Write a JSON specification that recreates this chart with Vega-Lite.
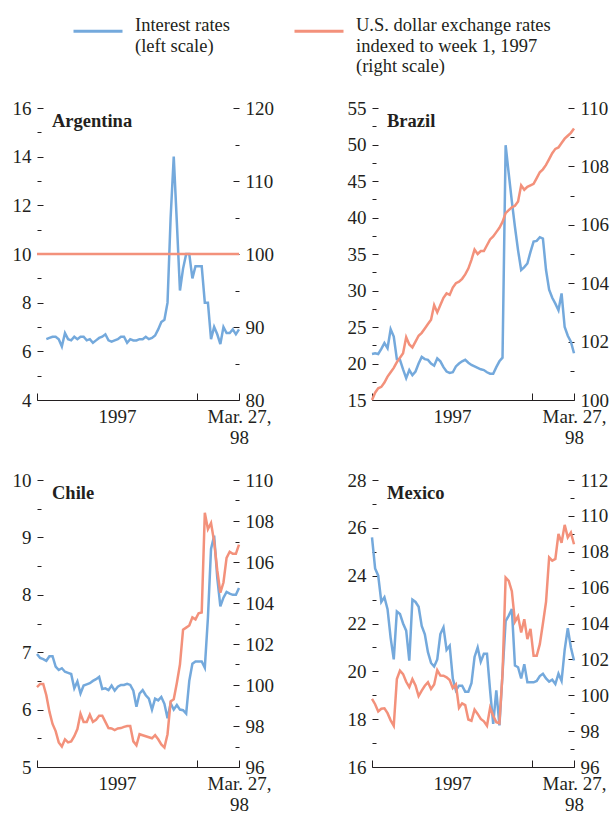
{
"$schema": "https://vega.github.io/schema/vega-lite/v6.json",
"background": "white",
"autosize": {"type": "pad"},
"padding": {"left": 12, "top": 5, "right": 5, "bottom": 5},
"datasets": {
"arg": [
{"week":0,"rate":null,"fx":100},{"week":1,"rate":null,"fx":100},{"week":2,"rate":null,"fx":100},{"week":3,"rate":6.5,"fx":100},{"week":4,"rate":6.55,"fx":100},{"week":5,"rate":6.6,"fx":100},{"week":6,"rate":6.6,"fx":100},{"week":7,"rate":6.5,"fx":100},{"week":8,"rate":6.2,"fx":100},{"week":9,"rate":6.75,"fx":100},
{"week":10,"rate":6.5,"fx":100},{"week":11,"rate":6.45,"fx":100},{"week":12,"rate":6.6,"fx":100},{"week":13,"rate":6.5,"fx":100},{"week":14,"rate":6.6,"fx":100},{"week":15,"rate":6.6,"fx":100},{"week":16,"rate":6.45,"fx":100},{"week":17,"rate":6.5,"fx":100},{"week":18,"rate":6.35,"fx":100},{"week":19,"rate":6.45,"fx":100},
{"week":20,"rate":6.55,"fx":100},{"week":21,"rate":6.6,"fx":100},{"week":22,"rate":6.7,"fx":100},{"week":23,"rate":6.45,"fx":100},{"week":24,"rate":6.4,"fx":100},{"week":25,"rate":6.45,"fx":100},{"week":26,"rate":6.5,"fx":100},{"week":27,"rate":6.6,"fx":100},{"week":28,"rate":6.6,"fx":100},{"week":29,"rate":6.35,"fx":100},
{"week":30,"rate":6.5,"fx":100},{"week":31,"rate":6.45,"fx":100},{"week":32,"rate":6.45,"fx":100},{"week":33,"rate":6.5,"fx":100},{"week":34,"rate":6.5,"fx":100},{"week":35,"rate":6.6,"fx":100},{"week":36,"rate":6.5,"fx":100},{"week":37,"rate":6.55,"fx":100},{"week":38,"rate":6.65,"fx":100},{"week":39,"rate":6.9,"fx":100},
{"week":40,"rate":7.2,"fx":100},{"week":41,"rate":7.3,"fx":100},{"week":42,"rate":8.0,"fx":100},{"week":43,"rate":11.5,"fx":100},{"week":44,"rate":14.0,"fx":100},{"week":45,"rate":11.3,"fx":100},{"week":46,"rate":8.5,"fx":100},{"week":47,"rate":9.4,"fx":100},{"week":48,"rate":10.0,"fx":100},{"week":49,"rate":10.0,"fx":100},
{"week":50,"rate":9.0,"fx":100},{"week":51,"rate":9.5,"fx":100},{"week":52,"rate":9.5,"fx":100},{"week":53,"rate":9.5,"fx":100},{"week":54,"rate":8.0,"fx":100},{"week":55,"rate":8.0,"fx":100},{"week":56,"rate":6.5,"fx":100},{"week":57,"rate":7.0,"fx":100},{"week":58,"rate":6.7,"fx":100},{"week":59,"rate":6.3,"fx":100},
{"week":60,"rate":7.0,"fx":100},{"week":61,"rate":6.75,"fx":100},{"week":62,"rate":6.75,"fx":100},{"week":63,"rate":6.9,"fx":100},{"week":64,"rate":6.7,"fx":100},{"week":65,"rate":6.9,"fx":100}
],
"bra": [
{"week":0,"rate":21.3,"fx":100.0},{"week":1,"rate":21.4,"fx":100.25},{"week":2,"rate":21.3,"fx":100.4},{"week":3,"rate":22.0,"fx":100.45},{"week":4,"rate":22.8,"fx":100.6},{"week":5,"rate":22.1,"fx":100.8},{"week":6,"rate":24.7,"fx":100.95},{"week":7,"rate":23.7,"fx":101.1},{"week":8,"rate":20.6,"fx":101.3},{"week":9,"rate":20.5,"fx":101.45},
{"week":10,"rate":19.2,"fx":101.6},{"week":11,"rate":18.0,"fx":102.15},{"week":12,"rate":19.1,"fx":101.9},{"week":13,"rate":18.4,"fx":101.8},{"week":14,"rate":18.9,"fx":102.0},{"week":15,"rate":20.0,"fx":102.2},{"week":16,"rate":20.9,"fx":102.3},{"week":17,"rate":20.6,"fx":102.45},{"week":18,"rate":20.5,"fx":102.6},{"week":19,"rate":20.0,"fx":102.75},
{"week":20,"rate":19.7,"fx":103.25},{"week":21,"rate":20.7,"fx":103.0},{"week":22,"rate":20.3,"fx":103.25},{"week":23,"rate":19.5,"fx":103.5},{"week":24,"rate":18.9,"fx":103.65},{"week":25,"rate":18.7,"fx":103.6},{"week":26,"rate":18.8,"fx":103.85},{"week":27,"rate":19.6,"fx":104.0},{"week":28,"rate":20.0,"fx":104.05},{"week":29,"rate":20.3,"fx":104.15},
{"week":30,"rate":20.5,"fx":104.3},{"week":31,"rate":20.1,"fx":104.5},{"week":32,"rate":19.8,"fx":104.8},{"week":33,"rate":19.6,"fx":105.15},{"week":34,"rate":19.4,"fx":105.0},{"week":35,"rate":19.2,"fx":105.1},{"week":36,"rate":19.1,"fx":105.1},{"week":37,"rate":18.8,"fx":105.3},{"week":38,"rate":18.6,"fx":105.5},{"week":39,"rate":18.6,"fx":105.6},
{"week":40,"rate":19.5,"fx":105.75},{"week":41,"rate":20.3,"fx":105.9},{"week":42,"rate":20.8,"fx":106.1},{"week":43,"rate":49.9,"fx":106.4},{"week":44,"rate":46.0,"fx":106.5},{"week":45,"rate":42.2,"fx":106.6},{"week":46,"rate":38.7,"fx":106.65},{"week":47,"rate":35.5,"fx":106.8},{"week":48,"rate":32.8,"fx":107.35},{"week":49,"rate":33.2,"fx":107.2},
{"week":50,"rate":33.7,"fx":107.3},{"week":51,"rate":35.3,"fx":107.35},{"week":52,"rate":36.7,"fx":107.4},{"week":53,"rate":36.8,"fx":107.6},{"week":54,"rate":37.3,"fx":107.8},{"week":55,"rate":37.1,"fx":107.9},{"week":56,"rate":32.8,"fx":108.05},{"week":57,"rate":30.1,"fx":108.25},{"week":58,"rate":29.0,"fx":108.45},{"week":59,"rate":28.2,"fx":108.6},
{"week":60,"rate":27.3,"fx":108.65},{"week":61,"rate":29.6,"fx":108.8},{"week":62,"rate":25.0,"fx":108.95},{"week":63,"rate":23.8,"fx":109.05},{"week":64,"rate":23.0,"fx":109.15},{"week":65,"rate":21.4,"fx":109.3}
],
"chi": [
{"week":0,"rate":6.97,"fx":99.9},{"week":1,"rate":6.9,"fx":100.05},{"week":2,"rate":6.88,"fx":100.05},{"week":3,"rate":6.85,"fx":99.5},{"week":4,"rate":6.93,"fx":98.7},{"week":5,"rate":6.93,"fx":98.1},{"week":6,"rate":6.75,"fx":97.75},{"week":7,"rate":6.69,"fx":97.2},{"week":8,"rate":6.72,"fx":97.0},{"week":9,"rate":6.66,"fx":97.35},
{"week":10,"rate":6.64,"fx":97.2},{"week":11,"rate":6.62,"fx":97.25},{"week":12,"rate":6.37,"fx":97.5},{"week":13,"rate":6.49,"fx":97.85},{"week":14,"rate":6.28,"fx":98.6},{"week":15,"rate":6.42,"fx":98.2},{"week":16,"rate":6.44,"fx":98.2},{"week":17,"rate":6.46,"fx":98.55},{"week":18,"rate":6.5,"fx":98.2},{"week":19,"rate":6.53,"fx":98.3},
{"week":20,"rate":6.57,"fx":98.5},{"week":21,"rate":6.36,"fx":98.5},{"week":22,"rate":6.37,"fx":98.2},{"week":23,"rate":6.34,"fx":97.9},{"week":24,"rate":6.42,"fx":97.88},{"week":25,"rate":6.33,"fx":97.8},{"week":26,"rate":6.4,"fx":97.88},{"week":27,"rate":6.43,"fx":97.9},{"week":28,"rate":6.43,"fx":97.96},{"week":29,"rate":6.45,"fx":98.0},
{"week":30,"rate":6.43,"fx":98.0},{"week":31,"rate":6.33,"fx":97.25},{"week":32,"rate":6.05,"fx":97.06},{"week":33,"rate":6.28,"fx":97.6},{"week":34,"rate":6.34,"fx":97.55},{"week":35,"rate":6.25,"fx":97.5},{"week":36,"rate":6.19,"fx":97.45},{"week":37,"rate":6.0,"fx":97.4},{"week":38,"rate":6.19,"fx":97.55},{"week":39,"rate":6.16,"fx":97.35},
{"week":40,"rate":6.22,"fx":97.1},{"week":41,"rate":6.1,"fx":96.95},{"week":42,"rate":5.85,"fx":97.6},{"week":43,"rate":6.11,"fx":99.2},{"week":44,"rate":6.0,"fx":99.3},{"week":45,"rate":6.08,"fx":100.1},{"week":46,"rate":6.0,"fx":101.0},{"week":47,"rate":5.99,"fx":102.7},{"week":48,"rate":5.93,"fx":102.8},{"week":49,"rate":6.5,"fx":102.9},
{"week":50,"rate":6.8,"fx":103.3},{"week":51,"rate":6.84,"fx":103.2},{"week":52,"rate":6.84,"fx":103.5},{"week":53,"rate":6.84,"fx":103.54},{"week":54,"rate":6.73,"fx":108.4},{"week":55,"rate":7.6,"fx":107.6},{"week":56,"rate":8.8,"fx":107.9},{"week":57,"rate":9.03,"fx":107.0},{"week":58,"rate":8.3,"fx":105.6},{"week":59,"rate":7.8,"fx":104.5},
{"week":60,"rate":7.95,"fx":105.0},{"week":61,"rate":8.05,"fx":106.2},{"week":62,"rate":8.02,"fx":106.5},{"week":63,"rate":8.0,"fx":106.4},{"week":64,"rate":8.0,"fx":106.4},{"week":65,"rate":8.12,"fx":106.85}
],
"mex": [
{"week":0,"rate":25.6,"fx":99.8},{"week":1,"rate":24.3,"fx":99.5},{"week":2,"rate":24.0,"fx":99.1},{"week":3,"rate":22.9,"fx":99.25},{"week":4,"rate":23.1,"fx":99.27},{"week":5,"rate":22.6,"fx":99.0},{"week":6,"rate":21.4,"fx":98.6},{"week":7,"rate":20.5,"fx":98.3},{"week":8,"rate":22.5,"fx":100.9},{"week":9,"rate":22.4,"fx":101.37},
{"week":10,"rate":22.0,"fx":101.18},{"week":11,"rate":21.7,"fx":100.75},{"week":12,"rate":20.45,"fx":100.45},{"week":13,"rate":23.0,"fx":100.9},{"week":14,"rate":22.9,"fx":100.55},{"week":15,"rate":22.7,"fx":99.95},{"week":16,"rate":21.9,"fx":100.26},{"week":17,"rate":21.55,"fx":100.53},{"week":18,"rate":20.8,"fx":100.72},{"week":19,"rate":20.35,"fx":100.35},
{"week":20,"rate":20.2,"fx":100.6},{"week":21,"rate":20.5,"fx":101.4},{"week":22,"rate":21.56,"fx":101.1},{"week":23,"rate":21.84,"fx":101.09},{"week":24,"rate":20.9,"fx":101.0},{"week":25,"rate":21.07,"fx":100.85},{"week":26,"rate":19.7,"fx":100.4},{"week":27,"rate":19.2,"fx":100.6},{"week":28,"rate":19.4,"fx":99.3},{"week":29,"rate":19.4,"fx":99.55},
{"week":30,"rate":19.15,"fx":99.45},{"week":31,"rate":19.15,"fx":98.65},{"week":32,"rate":19.5,"fx":98.58},{"week":33,"rate":20.6,"fx":99.2},{"week":34,"rate":21.0,"fx":98.96},{"week":35,"rate":20.4,"fx":98.68},{"week":36,"rate":20.73,"fx":98.55},{"week":37,"rate":20.73,"fx":98.3},{"week":38,"rate":19.2,"fx":99.3},{"week":39,"rate":17.8,"fx":98.86},
{"week":40,"rate":19.2,"fx":98.5},{"week":41,"rate":17.74,"fx":98.44},{"week":42,"rate":19.9,"fx":101.2},{"week":43,"rate":22.1,"fx":106.56},{"week":44,"rate":22.33,"fx":106.38},{"week":45,"rate":22.6,"fx":105.8},{"week":46,"rate":20.24,"fx":104.1},{"week":47,"rate":20.17,"fx":104.4},{"week":48,"rate":19.7,"fx":103.5},{"week":49,"rate":20.3,"fx":104.24},
{"week":50,"rate":19.54,"fx":103.13},{"week":51,"rate":19.54,"fx":103.7},{"week":52,"rate":19.54,"fx":102.2},{"week":53,"rate":19.6,"fx":102.2},{"week":54,"rate":19.8,"fx":102.85},{"week":55,"rate":19.9,"fx":104.0},{"week":56,"rate":19.7,"fx":105.2},{"week":57,"rate":19.57,"fx":107.68},{"week":58,"rate":19.65,"fx":107.5},{"week":59,"rate":19.47,"fx":107.6},
{"week":60,"rate":19.9,"fx":109.0},{"week":61,"rate":19.6,"fx":108.5},{"week":62,"rate":20.9,"fx":109.5},{"week":63,"rate":21.8,"fx":108.8},{"week":64,"rate":21.0,"fx":109.07},{"week":65,"rate":20.45,"fx":108.42}
]
},
"columns": 2,
"spacing": {"row": 80, "column": 133},
"bounds": "flush",
"concat": [
{"data": {"name": "arg"}, "title": {"text": "Argentina"}, "width": 202, "height": 292,
 "encoding": {"x": {"field": "week", "type": "quantitative", "scale": {"domain": [0, 65], "nice": false, "zero": false}, "axis": {"title": null, "values": [0, 25.75, 51.5, 65], "labelExpr": "datum.value == 25.75 ? '1997' : datum.value == 65 ? ['Mar. 27,', '98'] : ''", "domain": true, "tickSize": -7, "labelPadding": 14.5, "labelFlush": false, "labelOverlap": false, "labelLineHeight": 21, "tickOpacity": {"condition": {"test": "datum.value == 25.75", "value": 0}, "value": 1}}}},
 "layer": [
  {"mark": {"type": "line", "strokeWidth": 2.5}, "encoding": {"y": {"field": "rate", "type": "quantitative", "scale": {"domain": [4, 16], "nice": false, "zero": false}, "axis": {"title": null, "orient": "left", "values": [4, 6, 8, 10, 12, 14, 16], "tickSize": -6, "labelPadding": 12}}, "color": {"datum": "Interest rates", "type": "nominal", "scale": {"domain": ["Interest rates", "U.S. dollar exchange rates"], "range": ["#74a9dc", "#f3917b"]}, "legend": {"title": null, "labelExpr": "datum.label == 'Interest rates' ? ['Interest rates', '(left scale)', ' '] : ['U.S. dollar exchange rates', 'indexed to week 1, 1997', '(right scale)']"}}}},
  {"mark": {"type": "line", "opacity": 0}, "encoding": {"y": {"field": "rate", "type": "quantitative", "scale": {"domain": [4, 16], "nice": false, "zero": false}, "axis": {"title": null, "orient": "left", "values": [5, 7, 9, 11, 13, 15], "tickSize": -4, "labels": false}}}},
  {"mark": {"type": "line", "strokeWidth": 2.5}, "encoding": {"y": {"field": "fx", "type": "quantitative", "scale": {"domain": [80, 120], "nice": false, "zero": false}, "axis": {"title": null, "orient": "right", "values": [80, 90, 100, 110, 120], "tickSize": -6, "labelPadding": 12}}, "color": {"datum": "U.S. dollar exchange rates", "type": "nominal", "scale": {"domain": ["Interest rates", "U.S. dollar exchange rates"], "range": ["#74a9dc", "#f3917b"]}, "legend": {"title": null, "labelExpr": "datum.label == 'Interest rates' ? ['Interest rates', '(left scale)', ' '] : ['U.S. dollar exchange rates', 'indexed to week 1, 1997', '(right scale)']"}}}},
  {"mark": {"type": "line", "opacity": 0}, "encoding": {"y": {"field": "fx", "type": "quantitative", "scale": {"domain": [80, 120], "nice": false, "zero": false}, "axis": {"title": null, "orient": "right", "values": [85, 95, 105, 115], "tickSize": -4, "labels": false}}}}
 ],
 "resolve": {"scale": {"y": "independent"}}
},
{"data": {"name": "bra"}, "title": {"text": "Brazil"}, "width": 202, "height": 292,
 "encoding": {"x": {"field": "week", "type": "quantitative", "scale": {"domain": [0, 65], "nice": false, "zero": false}, "axis": {"title": null, "values": [0, 25.75, 51.5, 65], "labelExpr": "datum.value == 25.75 ? '1997' : datum.value == 65 ? ['Mar. 27,', '98'] : ''", "domain": true, "tickSize": -7, "labelPadding": 14.5, "labelFlush": false, "labelOverlap": false, "labelLineHeight": 21, "tickOpacity": {"condition": {"test": "datum.value == 25.75", "value": 0}, "value": 1}}}},
 "layer": [
  {"mark": {"type": "line", "strokeWidth": 2.5}, "encoding": {"y": {"field": "rate", "type": "quantitative", "scale": {"domain": [15, 55], "nice": false, "zero": false}, "axis": {"title": null, "orient": "left", "values": [15, 20, 25, 30, 35, 40, 45, 50, 55], "tickSize": -6, "labelPadding": 12}}, "color": {"datum": "Interest rates", "type": "nominal", "scale": {"domain": ["Interest rates", "U.S. dollar exchange rates"], "range": ["#74a9dc", "#f3917b"]}, "legend": {"title": null, "labelExpr": "datum.label == 'Interest rates' ? ['Interest rates', '(left scale)', ' '] : ['U.S. dollar exchange rates', 'indexed to week 1, 1997', '(right scale)']"}}}},
  {"mark": {"type": "line", "opacity": 0}, "encoding": {"y": {"field": "rate", "type": "quantitative", "scale": {"domain": [15, 55], "nice": false, "zero": false}, "axis": {"title": null, "orient": "left", "values": [17.5, 22.5, 27.5, 32.5, 37.5, 42.5, 47.5, 52.5], "tickSize": -4, "labels": false}}}},
  {"mark": {"type": "line", "strokeWidth": 2.5}, "encoding": {"y": {"field": "fx", "type": "quantitative", "scale": {"domain": [100, 110], "nice": false, "zero": false}, "axis": {"title": null, "orient": "right", "values": [100, 102, 104, 106, 108, 110], "tickSize": -6, "labelPadding": 12}}, "color": {"datum": "U.S. dollar exchange rates", "type": "nominal", "scale": {"domain": ["Interest rates", "U.S. dollar exchange rates"], "range": ["#74a9dc", "#f3917b"]}, "legend": {"title": null, "labelExpr": "datum.label == 'Interest rates' ? ['Interest rates', '(left scale)', ' '] : ['U.S. dollar exchange rates', 'indexed to week 1, 1997', '(right scale)']"}}}},
  {"mark": {"type": "line", "opacity": 0}, "encoding": {"y": {"field": "fx", "type": "quantitative", "scale": {"domain": [100, 110], "nice": false, "zero": false}, "axis": {"title": null, "orient": "right", "values": [101, 103, 105, 107, 109], "tickSize": -4, "labels": false}}}}
 ],
 "resolve": {"scale": {"y": "independent"}}
},
{"data": {"name": "chi"}, "title": {"text": "Chile"}, "width": 202, "height": 287,
 "encoding": {"x": {"field": "week", "type": "quantitative", "scale": {"domain": [0, 65], "nice": false, "zero": false}, "axis": {"title": null, "values": [0, 25.75, 51.5, 65], "labelExpr": "datum.value == 25.75 ? '1997' : datum.value == 65 ? ['Mar. 27,', '98'] : ''", "domain": true, "tickSize": -7, "labelPadding": 14.5, "labelFlush": false, "labelOverlap": false, "labelLineHeight": 21, "tickOpacity": {"condition": {"test": "datum.value == 25.75", "value": 0}, "value": 1}}}},
 "layer": [
  {"mark": {"type": "line", "strokeWidth": 2.5}, "encoding": {"y": {"field": "rate", "type": "quantitative", "scale": {"domain": [5, 10], "nice": false, "zero": false}, "axis": {"title": null, "orient": "left", "values": [5, 6, 7, 8, 9, 10], "tickSize": -6, "labelPadding": 12}}, "color": {"datum": "Interest rates", "type": "nominal", "scale": {"domain": ["Interest rates", "U.S. dollar exchange rates"], "range": ["#74a9dc", "#f3917b"]}, "legend": {"title": null, "labelExpr": "datum.label == 'Interest rates' ? ['Interest rates', '(left scale)', ' '] : ['U.S. dollar exchange rates', 'indexed to week 1, 1997', '(right scale)']"}}}},
  {"mark": {"type": "line", "opacity": 0}, "encoding": {"y": {"field": "rate", "type": "quantitative", "scale": {"domain": [5, 10], "nice": false, "zero": false}, "axis": {"title": null, "orient": "left", "values": [5.5, 6.5, 7.5, 8.5, 9.5], "tickSize": -4, "labels": false}}}},
  {"mark": {"type": "line", "strokeWidth": 2.5}, "encoding": {"y": {"field": "fx", "type": "quantitative", "scale": {"domain": [96, 110], "nice": false, "zero": false}, "axis": {"title": null, "orient": "right", "values": [96, 98, 100, 102, 104, 106, 108, 110], "tickSize": -6, "labelPadding": 12}}, "color": {"datum": "U.S. dollar exchange rates", "type": "nominal", "scale": {"domain": ["Interest rates", "U.S. dollar exchange rates"], "range": ["#74a9dc", "#f3917b"]}, "legend": {"title": null, "labelExpr": "datum.label == 'Interest rates' ? ['Interest rates', '(left scale)', ' '] : ['U.S. dollar exchange rates', 'indexed to week 1, 1997', '(right scale)']"}}}},
  {"mark": {"type": "line", "opacity": 0}, "encoding": {"y": {"field": "fx", "type": "quantitative", "scale": {"domain": [96, 110], "nice": false, "zero": false}, "axis": {"title": null, "orient": "right", "values": [97, 99, 101, 103, 105, 107, 109], "tickSize": -4, "labels": false}}}}
 ],
 "resolve": {"scale": {"y": "independent"}}
},
{"data": {"name": "mex"}, "title": {"text": "Mexico"}, "width": 202, "height": 287,
 "encoding": {"x": {"field": "week", "type": "quantitative", "scale": {"domain": [0, 65], "nice": false, "zero": false}, "axis": {"title": null, "values": [0, 25.75, 51.5, 65], "labelExpr": "datum.value == 25.75 ? '1997' : datum.value == 65 ? ['Mar. 27,', '98'] : ''", "domain": true, "tickSize": -7, "labelPadding": 14.5, "labelFlush": false, "labelOverlap": false, "labelLineHeight": 21, "tickOpacity": {"condition": {"test": "datum.value == 25.75", "value": 0}, "value": 1}}}},
 "layer": [
  {"mark": {"type": "line", "strokeWidth": 2.5}, "encoding": {"y": {"field": "rate", "type": "quantitative", "scale": {"domain": [16, 28], "nice": false, "zero": false}, "axis": {"title": null, "orient": "left", "values": [16, 18, 20, 22, 24, 26, 28], "tickSize": -6, "labelPadding": 12}}, "color": {"datum": "Interest rates", "type": "nominal", "scale": {"domain": ["Interest rates", "U.S. dollar exchange rates"], "range": ["#74a9dc", "#f3917b"]}, "legend": {"title": null, "labelExpr": "datum.label == 'Interest rates' ? ['Interest rates', '(left scale)', ' '] : ['U.S. dollar exchange rates', 'indexed to week 1, 1997', '(right scale)']"}}}},
  {"mark": {"type": "line", "opacity": 0}, "encoding": {"y": {"field": "rate", "type": "quantitative", "scale": {"domain": [16, 28], "nice": false, "zero": false}, "axis": {"title": null, "orient": "left", "values": [17, 19, 21, 23, 25, 27], "tickSize": -4, "labels": false}}}},
  {"mark": {"type": "line", "strokeWidth": 2.5}, "encoding": {"y": {"field": "fx", "type": "quantitative", "scale": {"domain": [96, 112], "nice": false, "zero": false}, "axis": {"title": null, "orient": "right", "values": [96, 98, 100, 102, 104, 106, 108, 110, 112], "tickSize": -6, "labelPadding": 12}}, "color": {"datum": "U.S. dollar exchange rates", "type": "nominal", "scale": {"domain": ["Interest rates", "U.S. dollar exchange rates"], "range": ["#74a9dc", "#f3917b"]}, "legend": {"title": null, "labelExpr": "datum.label == 'Interest rates' ? ['Interest rates', '(left scale)', ' '] : ['U.S. dollar exchange rates', 'indexed to week 1, 1997', '(right scale)']"}}}},
  {"mark": {"type": "line", "opacity": 0}, "encoding": {"y": {"field": "fx", "type": "quantitative", "scale": {"domain": [96, 112], "nice": false, "zero": false}, "axis": {"title": null, "orient": "right", "values": [97, 99, 101, 103, 105, 107, 109, 111], "tickSize": -4, "labels": false}}}}
 ],
 "resolve": {"scale": {"y": "independent"}}
}
],
"config": {
 "font": "Liberation Serif",
 "view": {"stroke": null},
 "axis": {"grid": false, "domain": false, "domainColor": "#231f20", "domainWidth": 1, "tickColor": "#231f20", "tickWidth": 1, "labelFont": "Liberation Serif", "labelFontSize": 19, "labelColor": "#231f20"},
 "title": {"anchor": "start", "frame": "group", "font": "Liberation Serif", "fontSize": 18.5, "fontWeight": "bold", "color": "#231f20", "offset": 0, "dx": 15, "dy": 35, "baseline": "alphabetic"},
 "legend": {"orient": "none", "legendX": 35, "legendY": -103, "direction": "horizontal", "symbolType": "stroke", "symbolSize": 2401, "symbolStrokeWidth": 3, "labelFont": "Liberation Serif", "labelFontSize": 18.5, "labelColor": "#231f20", "labelLimit": 400, "labelOffset": 11, "labelBaseline": "alphabetic", "columnPadding": 57, "padding": 0}
}
}
